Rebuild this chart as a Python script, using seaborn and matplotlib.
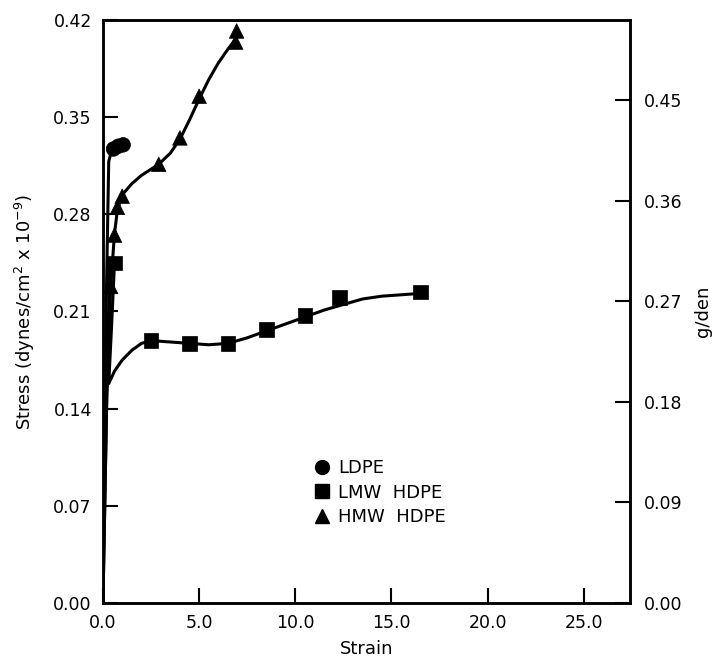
import numpy as np
import pandas as pd
import matplotlib
matplotlib.use("Agg")
import matplotlib.pyplot as plt
from matplotlib.lines import Line2D
import seaborn as sns

# ---- data ----
# measured points (markers)
ldpe_strain = [0.55, 0.8, 1.05]
ldpe_stress = [0.327, 0.329, 0.330]

lmw_strain = [0.6, 2.5, 4.5, 6.5, 8.5, 10.5, 12.3, 16.5]
lmw_stress = [0.245, 0.189, 0.187, 0.187, 0.197, 0.207, 0.220, 0.224]

hmw_strain = [0.4, 0.6, 0.75, 1.0, 2.9, 4.0, 5.0, 6.9, 6.95]
hmw_stress = [0.228, 0.265, 0.285, 0.293, 0.316, 0.335, 0.365, 0.404, 0.412]

# drawn curves
ldpe_curve_strain = [0.0, 0.15, 0.3, 0.45, 0.6, 0.8, 1.05]
ldpe_curve_stress = [0.0, 0.20, 0.318, 0.326, 0.328, 0.329, 0.330]

lmw_curve_strain = [0.0, 0.2, 0.35, 0.6, 0.45, 0.3, 0.6, 1.0, 1.5, 2.0, 2.5, 3.5, 4.5,
                    5.5, 6.5, 7.5, 8.5, 9.5, 10.5, 11.5, 12.5, 13.5, 14.5, 15.5, 16.5]
lmw_curve_stress = [0.0, 0.15, 0.245, 0.245, 0.20, 0.158, 0.167, 0.175, 0.182, 0.187, 0.189,
                    0.188, 0.187, 0.186, 0.187, 0.191, 0.196, 0.201, 0.206, 0.211, 0.215,
                    0.219, 0.221, 0.222, 0.223]

hmw_curve_strain = [0.0, 0.2, 0.4, 0.6, 0.75, 1.0, 1.5, 2.0, 2.9, 3.5, 4.0, 4.5, 5.0, 5.5,
                    6.0, 6.5, 7.0]
hmw_curve_stress = [0.0, 0.15, 0.228, 0.266, 0.283, 0.294, 0.302, 0.308, 0.316, 0.324,
                    0.334, 0.348, 0.363, 0.377, 0.389, 0.399, 0.408]

series_names = ["LDPE", "LMW  HDPE", "HMW  HDPE"]
x_ticks = [0.0, 5.0, 10.0, 15.0, 20.0, 25.0]
y_ticks = [0.00, 0.07, 0.14, 0.21, 0.28, 0.35, 0.42]
y2_ticks = [0.00, 0.09, 0.18, 0.27, 0.36, 0.45]
gden_per_stress = 1.2418

# ---- build tables ----
pts = pd.concat([
    pd.DataFrame({"strain": ldpe_strain, "stress": ldpe_stress, "series": series_names[0]}),
    pd.DataFrame({"strain": lmw_strain, "stress": lmw_stress, "series": series_names[1]}),
    pd.DataFrame({"strain": hmw_strain, "stress": hmw_stress, "series": series_names[2]}),
], ignore_index=True)
curves = [
    pd.DataFrame({"strain": ldpe_curve_strain, "stress": ldpe_curve_stress}),
    pd.DataFrame({"strain": lmw_curve_strain, "stress": lmw_curve_stress}),
    pd.DataFrame({"strain": hmw_curve_strain, "stress": hmw_curve_stress}),
]

sns.set_theme(style="ticks")
plt.rcParams["font.family"] = ["DejaVu Sans"]
plt.rcParams["mathtext.fontset"] = "dejavusans"
plt.rcParams["text.color"] = "black"
plt.rcParams["axes.labelcolor"] = "black"

fig = plt.figure(figsize=(7.2, 6.63), dpi=100)
ax = fig.add_axes([0.143, 0.0905, 0.732, 0.8795])

for c in curves:
    sns.lineplot(data=c, x="strain", y="stress", sort=False, estimator=None,
                 color="black", lw=2.2, ax=ax)

markers = {series_names[0]: "o", series_names[1]: "s", series_names[2]: "^"}
sns.scatterplot(data=pts, x="strain", y="stress", style="series", markers=markers,
                color="black", s=110, edgecolor="black", linewidth=0.5, ax=ax,
                legend=False, zorder=5)

ax.set_xlim(0, 27.4)
ax.set_ylim(0, 0.42)
ax.set_xticks(x_ticks)
ax.set_xticklabels([f"{v:.1f}" for v in x_ticks])
ax.set_yticks(y_ticks)
ax.set_yticklabels([f"{v:.2f}" for v in y_ticks])
ax.tick_params(direction="in", length=11, width=1.5, labelsize=12.5, pad=8,
               top=False, right=False, colors="black", labelcolor="black")
for s in ax.spines.values():
    s.set_linewidth(1.8)
    s.set_color("black")
ax.set_xlabel("Strain", fontsize=13, labelpad=6, color="black")
ax.set_ylabel("Stress (dynes/cm$^2$ x 10$^{-9}$)", fontsize=13, labelpad=12, color="black")

ax2 = ax.twinx()
ax2.set_ylim(0, 0.42 * gden_per_stress)
ax2.set_yticks(y2_ticks)
ax2.set_yticklabels([f"{v:.2f}" for v in y2_ticks])
ax2.tick_params(direction="in", length=11, width=1.5, labelsize=12.5, pad=10,
                colors="black", labelcolor="black")
for s in ax2.spines.values():
    s.set_linewidth(1.8)
    s.set_color("black")
ax2.set_ylabel("g/den", fontsize=13, rotation=90, labelpad=8, color="black")

handles = [Line2D([], [], marker=markers[n], color="black", linestyle="none",
                  markersize=10) for n in series_names]
ax.legend(handles, series_names, loc="upper left", bbox_to_anchor=(0.367, 0.274),
          frameon=False, fontsize=13, handletextpad=0.4, labelspacing=0.35,
          handlelength=1.0, labelcolor="black")

fig.savefig("out.png", dpi=100)
